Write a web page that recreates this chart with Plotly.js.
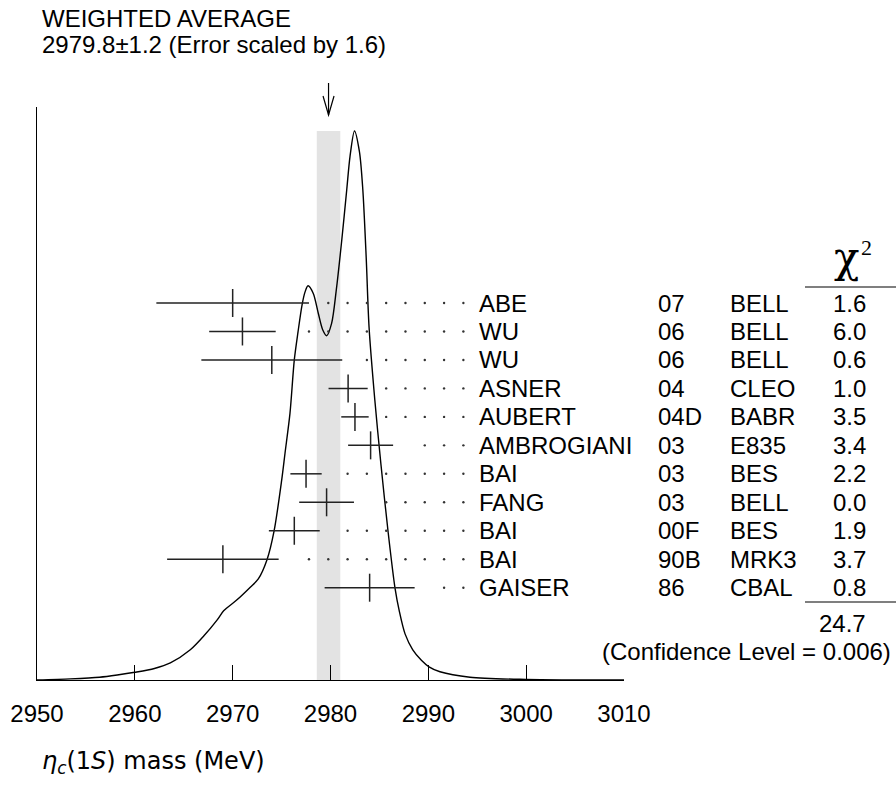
<!DOCTYPE html>
<html><head><meta charset="utf-8">
<script src="https://cdn.plot.ly/plotly-3.0.1.min.js"></script>
<style>body{margin:0;background:#fff}</style>
</head><body><div id="chart" style="width:896px;height:792px"></div>
<script>
// ---------- data ----------
const names = ["ABE","WU","WU","ASNER","AUBERT","AMBROGIANI","BAI","FANG","BAI","BAI","GAISER"];
const years = ["07","06","06","04","04D","03","03","03","00F","90B","86"];
const experiments = ["BELL","BELL","BELL","CLEO","BABR","E835","BES","BELL","BES","MRK3","CBAL"];
const chi2 = ["1.6","6.0","0.6","1.0","3.5","3.4","2.2","0.0","1.9","3.7","0.8"];
const masses = [2970.0, 2971.0, 2974.0, 2981.8, 2982.5, 2984.1, 2977.5, 2979.6, 2976.3, 2969.0, 2984.0];
const errors = [7.8, 3.4, 7.2, 2.0, 1.4, 2.3, 1.6, 2.8, 2.6, 5.7, 4.6];
const avgValue = 2979.8, avgError = 1.2, errScale = "1.6";
const chi2Sum = "24.7", confLevel = "0.006";
const curveX = [2950.0,2953.4,2956.4,2958.2,2960.0,2962.0,2963.63,2965.67,2967.04,2968.40,2969.08,2970.44,2971.80,2972.62,2973.51,2974.23,2975.01,2975.35,2975.86,2976.30,2976.68,2977.09,2977.40,2977.70,2978.24,2978.75,2979.20,2979.61,2980.12,2980.59,2981.15,2981.66,2981.99,2982.45,2982.96,2983.30,2983.65,2983.94,2984.53,2985.16,2985.88,2986.59,2987.05,2987.62,2988.41,2989.29,2990.07,2991.19,2994.26,2999.98,3010.0];
const curveY = [0,0.002,0.005,0.009,0.014,0.021,0.031,0.055,0.080,0.109,0.126,0.146,0.169,0.184,0.219,0.271,0.364,0.413,0.486,0.583,0.634,0.683,0.707,0.718,0.704,0.668,0.638,0.627,0.650,0.710,0.801,0.893,0.953,1.0,0.962,0.894,0.769,0.643,0.510,0.392,0.271,0.168,0.124,0.084,0.055,0.036,0.024,0.015,0.005,0.001,0];
const tickValues = [2950,2960,2970,2980,2990,3000,3010];

// ---------- layout constants (pixels) ----------
const W = 896, H = 792, L = 37, R = 624, TOP = 107, AXIS = 680;
const ROW0 = 303, ROWSTEP = 28.47;
const XMIN = 2950, XMAX = 3010;
const pxPerUnit = (R - L) / (XMAX - XMIN);
const FONT = "Liberation Sans, Arial, Helvetica, sans-serif";
const px2paperX = px => (px - L) / (R - L);
const py2paperY = py => (AXIS - py) / (AXIS - TOP);
const yMaxCurve = Math.max(...curveY);
const peakPx = 131;
const yRange = [0, yMaxCurve * (AXIS - TOP) / (AXIS - peakPx)];
const y2Range = [(AXIS - ROW0) / ROWSTEP, -(ROW0 - TOP) / ROWSTEP];
const rows = names.map((_, i) => i);

// leader dots: grid starting 2 units left of average, spacing ~19.3 px
const dotX = [], dotY = [];
const dotStep = 19.3 / pxPerUnit;
masses.forEach((m, i) => {
  const end = m + errors[i];
  for (let k = 0; k < 9; k++) {
    const xd = (avgValue - 2) + k * dotStep;
    if (xd > end + 1.5) { dotX.push(xd); dotY.push(i); }
  }
});

const traces = [
  { x: curveX, y: curveY, type: "scatter", mode: "lines", line: { color: "#000", width: 1.4, shape: "spline", smoothing: 0.8 }, hoverinfo: "skip", xaxis: "x", yaxis: "y" },
  { x: dotX, y: dotY, type: "scatter", mode: "markers", marker: { size: 2.4, color: "#333" }, yaxis: "y2", cliponaxis: false, hoverinfo: "skip" },
  { x: masses, y: rows, type: "scatter", mode: "markers", yaxis: "y2", cliponaxis: false,
    marker: { symbol: "line-ns-open", size: 20, color: "#222", line: { width: 1.5, color: "#222" } },
    error_x: { type: "data", array: errors, visible: true, color: "#222", thickness: 1.5, width: 0 }, hoverinfo: "skip" }
];

const ann = [];
const colX = { name: 477, year: 656, exp: 728, chiR: 868 };
names.forEach((n, i) => {
  ann.push({ xref: "paper", yref: "y2", x: px2paperX(colX.name), y: i, text: n, xanchor: "left", yanchor: "middle", showarrow: false });
  ann.push({ xref: "paper", yref: "y2", x: px2paperX(colX.year), y: i, text: years[i], xanchor: "left", yanchor: "middle", showarrow: false });
  ann.push({ xref: "paper", yref: "y2", x: px2paperX(colX.exp), y: i, text: experiments[i], xanchor: "left", yanchor: "middle", showarrow: false });
  ann.push({ xref: "paper", yref: "y2", x: px2paperX(colX.chiR), y: i, text: chi2[i], xanchor: "right", yanchor: "middle", showarrow: false });
});
ann.push({ xref: "paper", yref: "paper", x: px2paperX(colX.chiR), y: py2paperY(623), text: chi2Sum, xanchor: "right", yanchor: "middle", showarrow: false });
ann.push({ xref: "paper", yref: "paper", x: px2paperX(893), y: py2paperY(651), text: "(Confidence Level = " + confLevel + ")", xanchor: "right", yanchor: "middle", showarrow: false });
ann.push({ xref: "paper", yref: "paper", x: px2paperX(846), y: py2paperY(257), text: "χ", xanchor: "center", yanchor: "middle", showarrow: false, font: { family: "DejaVu Serif, Liberation Serif, serif", size: 42, color: "#000" } });
ann.push({ xref: "paper", yref: "paper", x: px2paperX(859), y: py2paperY(247), text: "2", xanchor: "left", yanchor: "middle", showarrow: false, font: { family: "Liberation Serif, DejaVu Serif, serif", size: 22, color: "#000" } });
ann.push({ xref: "paper", yref: "paper", x: px2paperX(40), y: py2paperY(19), text: "WEIGHTED AVERAGE", xanchor: "left", yanchor: "middle", showarrow: false });
ann.push({ xref: "paper", yref: "paper", x: px2paperX(40), y: py2paperY(45), text: avgValue.toFixed(1) + "±" + avgError.toFixed(1) + " (Error scaled by " + errScale + ")", xanchor: "left", yanchor: "middle", showarrow: false });
ann.push({ xref: "paper", yref: "paper", x: px2paperX(40), y: py2paperY(762), text: "<i>η<sub>c</sub></i>(1<i>S</i>) mass (MeV)", xanchor: "left", yanchor: "middle", showarrow: false, font: { family: "DejaVu Sans, sans-serif", size: 24, color: "#000" } });

const headHalf = 5.5 / pxPerUnit;
const shapes = [
  { type: "rect", xref: "x", yref: "y", x0: avgValue - avgError, x1: avgValue + avgError, y0: 0, y1: yMaxCurve, fillcolor: "#e3e3e3", line: { width: 0 }, layer: "below" },
  { type: "line", xref: "x", yref: "paper", x0: avgValue, x1: avgValue, y0: py2paperY(83), y1: py2paperY(115), line: { color: "#000", width: 1.2 } },
  { type: "path", xref: "x", yref: "paper", path: `M${avgValue - headHalf},${py2paperY(96)} L${avgValue},${py2paperY(115)} L${avgValue + headHalf},${py2paperY(96)}`, line: { color: "#000", width: 1.2 } },
  { type: "line", xref: "paper", yref: "paper", x0: px2paperX(805), x1: px2paperX(896), y0: py2paperY(287), y1: py2paperY(287), line: { color: "#000", width: 1.2 } },
  { type: "line", xref: "paper", yref: "paper", x0: px2paperX(805), x1: px2paperX(896), y0: py2paperY(602), y1: py2paperY(602), line: { color: "#000", width: 1.2 } }
];

const layout = {
  width: W, height: H,
  margin: { l: L, r: W - R, t: TOP, b: H - AXIS, pad: 0 },
  paper_bgcolor: "#fff", plot_bgcolor: "#fff", showlegend: false,
  font: { family: FONT, size: 24, color: "#000" },
  xaxis: { range: [XMIN, XMAX], showgrid: false, zeroline: false, showline: true, linecolor: "#000", linewidth: 1.2,
           ticks: "inside", ticklen: 15, tickwidth: 1.2, tickcolor: "#000", tickmode: "array", tickvals: tickValues,
           ticktext: tickValues.map(String), tickfont: { family: FONT, size: 24, color: "#000" }, ticklabelstandoff: 12, fixedrange: true },
  yaxis: { range: yRange, showgrid: false, zeroline: false, showline: true, linecolor: "#000", linewidth: 1.2, showticklabels: false, ticks: "", fixedrange: true },
  yaxis2: { range: y2Range, overlaying: "y", visible: false, fixedrange: true },
  annotations: ann, shapes: shapes
};
ann.forEach(a => { if (!a.font) a.font = { family: FONT, size: 24, color: "#000" }; });

Plotly.newPlot("chart", traces, layout, { displayModeBar: false, staticPlot: true });
</script></body></html>
